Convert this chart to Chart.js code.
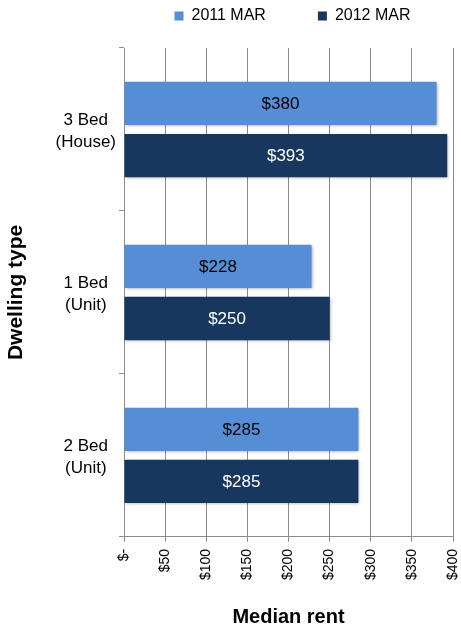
<!DOCTYPE html>
<html>
<head>
<meta charset="utf-8">
<script src="https://cdn.jsdelivr.net/npm/chart.js@4/dist/chart.umd.min.js"></script>
<style>
  html, body { margin: 0; padding: 0; background: #fff; }
  #wrap { width: 461px; height: 629px; }
</style>
</head>
<body>
<div id="wrap"><canvas id="canvasRenta"></canvas></div>
<script>
var categorias = [["3 Bed", "(House)"], ["1 Bed", "(Unit)"], ["2 Bed", "(Unit)"]];
var series = ["2011 MAR", "2012 MAR"];
var renta2011 = [380, 228, 285];
var renta2012 = [393, 250, 285];
var ticksX = [0, 50, 100, 150, 200, 250, 300, 350, 400];

var colores = ["#558ED5", "#17375E"];
var coloresTexto = ["#000000", "#ffffff"];
var fuente = "'Liberation Sans', Arial, sans-serif";

// sombra leve en las barras
var sombraBarras = {
  id: "sombraBarras",
  beforeDatasetsDraw: function (chart) {
    var ctx = chart.ctx;
    ctx.save();
    ctx.shadowColor = "rgba(0,0,0,0.35)";
    ctx.shadowBlur = 3;
    ctx.shadowOffsetX = 1;
    ctx.shadowOffsetY = 1;
  },
  afterDatasetsDraw: function (chart) {
    chart.ctx.restore();
  }
};

// etiquetas de valor dentro de cada barra
var etiquetas = {
  id: "etiquetas",
  afterDraw: function (chart) {
    var ctx = chart.ctx;
    ctx.save();
    ctx.font = "17px " + fuente;
    ctx.textAlign = "center";
    ctx.textBaseline = "middle";
    chart.data.datasets.forEach(function (ds, i) {
      var meta = chart.getDatasetMeta(i);
      meta.data.forEach(function (bar, j) {
        ctx.fillStyle = coloresTexto[i];
        ctx.fillText("$" + ds.data[j], (bar.x + bar.base) / 2, bar.y + 1);
      });
    });
    ctx.restore();
  }
};

// leyenda: items separados, centrada sobre el area del grafico, espacio debajo
var ajusteLeyenda = {
  id: "ajusteLeyenda",
  beforeInit: function (chart) {
    var leyenda = chart.legend;
    var fitOrig = leyenda.fit;
    var drawOrig = leyenda.draw;
    leyenda.fit = function () {
      fitOrig.bind(leyenda)();
      this.height = 48;
    };
    leyenda.draw = function () {
      var t = this.top, l = this.left, r = this.right;
      this.top = t - (this.options.labels.padding - 8);
      this.left = l + 64;
      this.right = r + 64;
      drawOrig.bind(leyenda)();
      this.top = t;
      this.left = l;
      this.right = r;
    };
  }
};

var ctx = document.getElementById("canvasRenta").getContext("2d");
new Chart(ctx, {
  type: "bar",
  data: {
    labels: categorias,
    datasets: [
      {
        label: series[0],
        data: renta2011,
        backgroundColor: colores[0],
        categoryPercentage: 0.64,
        barPercentage: 0.83
      },
      {
        label: series[1],
        data: renta2012,
        backgroundColor: colores[1],
        categoryPercentage: 0.64,
        barPercentage: 0.83
      }
    ]
  },
  options: {
    indexAxis: "y",
    responsive: true,
    maintainAspectRatio: false,
    animation: false,
    layout: { padding: { top: 0, right: 8, left: 4, bottom: 0 } },
    plugins: {
      legend: {
        position: "top",
        labels: {
          boxWidth: 9,
          boxHeight: 9,
          padding: 52,
          color: "#000",
          font: { family: fuente, size: 16 }
        }
      },
      tooltip: { enabled: false }
    },
    scales: {
      x: {
        min: 0,
        max: 400,
        afterBuildTicks: function (axis) {
          axis.ticks = ticksX.map(function (v) { return { value: v }; });
        },
        afterFit: function (axis) {
          axis.paddingLeft = 0;
          axis.paddingRight = 0;
        },
        ticks: {
          minRotation: 90,
          maxRotation: 90,
          padding: 7,
          color: "#000",
          font: { family: fuente, size: 14 },
          callback: function (v) { return v === 0 ? "$-" : "$" + v; }
        },
        grid: { color: "#8c8c8c", tickLength: 5, lineWidth: 1 },
        border: { color: "#8c8c8c" },
        title: {
          display: true,
          text: "Median rent",
          color: "#000",
          padding: { top: 18, bottom: 0 },
          font: { family: fuente, size: 20, weight: "bold" }
        }
      },
      y: {
        afterFit: function (axis) {
          axis.width = 120;
        },
        ticks: {
          crossAlign: "center",
          color: "#000",
          padding: 3,
          labelOffset: 2,
          font: { family: fuente, size: 17, lineHeight: 1.3 }
        },
        grid: { drawOnChartArea: false, color: "#8c8c8c", tickLength: 5, offset: true },
        border: { color: "#8c8c8c" },
        title: {
          display: true,
          text: "Dwelling type",
          color: "#000",
          padding: { top: 0, bottom: 0 },
          font: { family: fuente, size: 21, weight: "bold" }
        }
      }
    }
  },
  plugins: [ajusteLeyenda, sombraBarras, etiquetas]
});
</script>
</body>
</html>
